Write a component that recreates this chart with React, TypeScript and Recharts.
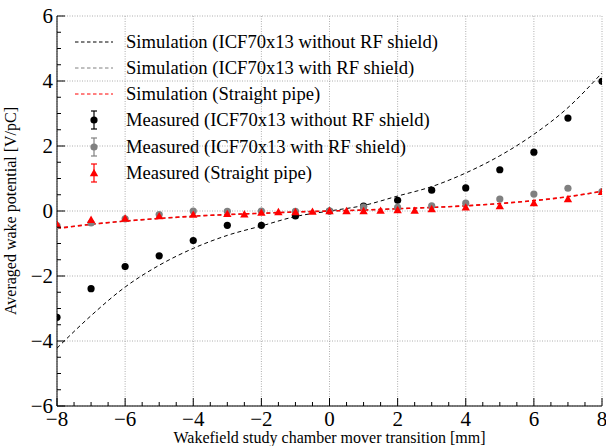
import React from "react";
import { ComposedChart, Line, Scatter, XAxis, YAxis, CartesianGrid } from "recharts";

// ---------- data ----------
const simXs = [-8, -7, -6, -5, -4, -3, -2, -1, 0, 1, 2, 3, 4, 5, 6, 7, 8];
const simNoShield = [-4.22, -3.22, -2.34, -1.67, -1.15, -0.75, -0.46, -0.17, 0, 0.17, 0.46, 0.75, 1.17, 1.7, 2.36, 3.18, 4.25];
const simWithShield = [-0.53, -0.41, -0.31, -0.23, -0.16, -0.11, -0.07, -0.03, 0, 0.03, 0.07, 0.11, 0.16, 0.23, 0.32, 0.44, 0.6];
const simStraight = [-0.54, -0.41, -0.31, -0.23, -0.16, -0.11, -0.07, -0.03, 0, 0.03, 0.07, 0.11, 0.16, 0.23, 0.32, 0.44, 0.61];

const measNoShieldX = [-8, -7, -6, -5, -4, -3, -2, -1, 0, 1, 2, 3, 4, 5, 6, 7, 8];
const measNoShieldY = [-3.27, -2.39, -1.71, -1.38, -0.91, -0.44, -0.44, -0.15, 0, 0.15, 0.33, 0.64, 0.71, 1.27, 1.81, 2.86, 3.99];

const measShieldX = [-8, -7, -6, -5, -4, -3, -2, -1, 0, 1, 2, 3, 4, 5, 6, 7, 8];
const measShieldY = [-0.45, -0.37, -0.24, -0.11, 0.0, -0.01, 0.0, -0.01, 0, 0.12, 0.11, 0.16, 0.24, 0.37, 0.52, 0.7, 0.6];

const measStraightX = [-8, -7, -6, -5, -4, -3, -2.5, -2, -1.5, -1, -0.5, 0, 0.5, 1, 1.5, 2, 2.5, 3, 4, 5, 6, 7, 8];
const measStraightY = [-0.41, -0.27, -0.23, -0.16, -0.11, -0.09, -0.1, -0.05, -0.03, -0.03, -0.02, 0, 0.0, 0.0, 0.01, 0.03, 0.01, 0.06, 0.11, 0.15, 0.24, 0.37, 0.59];

const xMajorTicks = [-8, -6, -4, -2, 0, 2, 4, 6, 8];
const yMajorTicks = [-6, -4, -2, 0, 2, 4, 6];

const legendLabels = [
  "Simulation (ICF70x13 without RF shield)",
  "Simulation (ICF70x13 with RF shield)",
  "Simulation (Straight pipe)",
  "Measured (ICF70x13 without RF shield)",
  "Measured (ICF70x13 with RF shield)",
  "Measured (Straight pipe)",
];

const xTitle = "Wakefield study chamber mover transition [mm]";
const yTitle = "Averaged wake potential [V/pC]";

// ---------- helpers ----------
const zip = (xs: number[], ys: number[]) => xs.map((x, i) => ({ x, y: ys[i] }));
const halfSteps = (lo: number, hi: number) => {
  const out: number[] = [];
  for (let v = lo; v <= hi + 1e-9; v += 0.5) out.push(Math.round(v * 2) / 2);
  return out;
};
const xAllTicks = halfSteps(-8, 8);
const yAllTicks = halfSteps(-6, 6);
const fmt = (v: number) => (v < 0 ? "\u2212" + Math.abs(v) : String(v));

const FONT = "'Liberation Serif', 'DejaVu Serif', serif";
const W = 606;
const H = 446;
const BLACK = "#000000";
const GRAY = "#808080";
const RED = "#ff0000";

const isMajorX = (v: number) => xMajorTicks.includes(v);
const isMajorY = (v: number) => yMajorTicks.includes(v);

const BottomTick = (p: any) => {
  const { x, y, payload } = p;
  const major = isMajorX(payload.value);
  return (
    <g>
      <line x1={x} x2={x} y1={y} y2={y - (major ? 8 : 4)} stroke="#000" strokeWidth={1} />
      {major && (
        <text x={x} y={y + 20} textAnchor="middle" fontSize={21} fontFamily={FONT} fill="#000">
          {fmt(payload.value)}
        </text>
      )}
    </g>
  );
};
const TopTick = (p: any) => {
  const { x, y, payload } = p;
  const major = isMajorX(payload.value);
  return <line x1={x} x2={x} y1={y} y2={y + (major ? 8 : 4)} stroke="#000" strokeWidth={1} />;
};
const LeftTick = (p: any) => {
  const { x, y, payload } = p;
  const major = isMajorY(payload.value);
  return (
    <g>
      <line x1={x} x2={x + (major ? 8 : 4)} y1={y} y2={y} stroke="#000" strokeWidth={1} />
      {major && (
        <text x={x - 4} y={y + 7} textAnchor="end" fontSize={21} fontFamily={FONT} fill="#000">
          {fmt(payload.value)}
        </text>
      )}
    </g>
  );
};
const RightTick = (p: any) => {
  const { x, y, payload } = p;
  const major = isMajorY(payload.value);
  return <line x1={x} x2={x - (major ? 8 : 4)} y1={y} y2={y} stroke="#000" strokeWidth={1} />;
};

const Dot = (color: string) => (p: any) => <circle cx={p.cx} cy={p.cy} r={3.6} fill={color} />;
const Tri = (color: string) => (p: any) => {
  const { cx, cy } = p;
  const s = 4.2;
  return <path d={`M${cx},${cy - s} L${cx + s},${cy + s * 0.75} L${cx - s},${cy + s * 0.75} Z`} fill={color} />;
};

const Legend = () => {
  const rowY = [42, 68, 94, 120, 147, 173];
  const lineX1 = 75;
  const lineX2 = 113;
  const mx = 94;
  const textX = 126;
  const colors = [BLACK, GRAY, RED, BLACK, GRAY, RED];
  return (
    <svg width={W} height={H} style={{ position: "absolute", left: 0, top: 0, pointerEvents: "none" }}>
      {legendLabels.map((lab, i) => {
        const y = rowY[i];
        const c = colors[i];
        return (
          <g key={i}>
            {i < 3 ? (
              <line x1={lineX1} x2={lineX2} y1={y} y2={y} stroke={c} strokeWidth={1} strokeDasharray="3.5 2.5" />
            ) : (
              <g>
                <line x1={mx} x2={mx} y1={y - 9} y2={y + 9} stroke={c} strokeWidth={1.2} />
                <line x1={mx - 3} x2={mx + 3} y1={y - 9} y2={y - 9} stroke={c} strokeWidth={1.2} />
                <line x1={mx - 3} x2={mx + 3} y1={y + 9} y2={y + 9} stroke={c} strokeWidth={1.2} />
                {i === 5 ? Tri(c)({ cx: mx, cy: y }) : <circle cx={mx} cy={y} r={3.6} fill={c} />}
              </g>
            )}
            <text x={textX} y={y + 6} fontSize={18.6} fontFamily={FONT} fill="#000">
              {lab}
            </text>
          </g>
        );
      })}
    </svg>
  );
};

export default function App() {
  return (
    <div style={{ position: "absolute", left: 0, top: 0, width: W, height: H, background: "#fff" }}>
      <ComposedChart width={W} height={H} margin={{ top: 16, right: 4, left: 0, bottom: 0 }}>
        <CartesianGrid
          stroke="#9a9a9a"
          strokeDasharray="1 1.5"
          strokeWidth={0.8}
          horizontalValues={yMajorTicks}
          verticalValues={xMajorTicks}
        />
        <XAxis
          xAxisId={0}
          type="number"
          dataKey="x"
          domain={[-8, 8]}
          ticks={xAllTicks}
          interval={0}
          allowDataOverflow
          height={40}
          tickSize={0}
          tickMargin={0}
          tickLine={false}
          axisLine={{ stroke: "#000", strokeWidth: 1 }}
          tick={<BottomTick />}
          label={{ value: xTitle, position: "insideBottom", offset: 3, fontSize: 16, fontFamily: FONT, fill: "#000" }}
        />
        <XAxis
          xAxisId="top"
          orientation="top"
          type="number"
          domain={[-8, 8]}
          ticks={xAllTicks}
          interval={0}
          allowDataOverflow
          height={0}
          tickSize={0}
          tickMargin={0}
          tickLine={false}
          axisLine={{ stroke: "#000", strokeWidth: 1 }}
          tick={<TopTick />}
        />
        <YAxis
          yAxisId={0}
          type="number"
          domain={[-6, 6]}
          ticks={yAllTicks}
          interval={0}
          allowDataOverflow
          width={57}
          tickSize={0}
          tickMargin={0}
          tickLine={false}
          axisLine={{ stroke: "#000", strokeWidth: 1 }}
          tick={<LeftTick />}
          label={{ value: yTitle, angle: -90, position: "insideLeft", offset: 10, fontSize: 16, fontFamily: FONT, fill: "#000", style: { textAnchor: "middle" } }}
        />
        <YAxis
          yAxisId="right"
          orientation="right"
          type="number"
          domain={[-6, 6]}
          ticks={yAllTicks}
          interval={0}
          allowDataOverflow
          width={0}
          tickSize={0}
          tickMargin={0}
          tickLine={false}
          axisLine={{ stroke: "#000", strokeWidth: 1 }}
          tick={<RightTick />}
        />
        <Line data={zip(simXs, simNoShield)} dataKey="y" type="monotone" stroke={BLACK} strokeWidth={1} strokeDasharray="4 3" dot={false} isAnimationActive={false} />
        <Line data={zip(simXs, simWithShield)} dataKey="y" type="monotone" stroke={GRAY} strokeWidth={1.2} strokeDasharray="4 3" dot={false} isAnimationActive={false} />
        <Scatter data={zip(measNoShieldX, measNoShieldY)} dataKey="y" shape={Dot(BLACK)} isAnimationActive={false} />
        <Scatter data={zip(measShieldX, measShieldY)} dataKey="y" shape={Dot(GRAY)} isAnimationActive={false} />
        <Line data={zip(simXs, simStraight)} dataKey="y" type="monotone" stroke={RED} strokeWidth={1.6} strokeDasharray="4 3" dot={false} isAnimationActive={false} />
        <Scatter data={zip(measStraightX, measStraightY)} dataKey="y" shape={Tri(RED)} isAnimationActive={false} />
      </ComposedChart>
      <Legend />
    </div>
  );
}
